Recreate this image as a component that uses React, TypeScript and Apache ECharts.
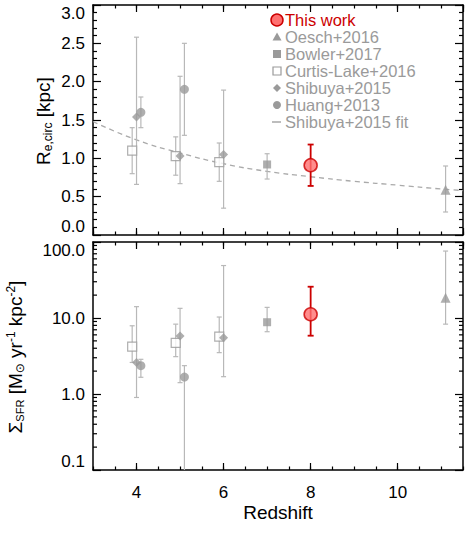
import React, { useEffect, useRef } from "react";
import * as echarts from "echarts";

// ---------- axis ranges ----------
const X_MIN = 3;
const X_MAX = 11.5;
const R_MIN = 0;
const R_MAX = 3;
const S_MIN = 0.1;
const S_MAX = 100;

// ---------- data ----------
const thisWorkZ = [8.0];
const thisWorkR = [0.91];
const thisWorkRLo = [0.64];
const thisWorkRHi = [1.18];
const thisWorkS = [11.2];
const thisWorkSLo = [5.85];
const thisWorkSHi = [25.8];

const oeschZ = [11.1];
const oeschR = [0.59];
const oeschRLo = [0.3];
const oeschRHi = [0.9];
const oeschS = [18.5];
const oeschSLo = [8.3];
const oeschSHi = [76];

const bowlerZ = [7.0];
const bowlerR = [0.92];
const bowlerRLo = [0.73];
const bowlerRHi = [1.06];
const bowlerS = [8.8];
const bowlerSLo = [6.6];
const bowlerSHi = [13.8];

const curtisZ = [3.9, 4.9, 5.9];
const curtisR = [1.1, 1.03, 0.95];
const curtisRLo = [0.8, 0.78, 0.7];
const curtisRHi = [1.4, 1.28, 1.2];
const curtisS = [4.2, 4.7, 5.7];
const curtisSLo = [2.6, 3.1, 3.5];
const curtisSHi = [7.9, 8.3, 10.3];

const shibuyaZ = [4.0, 5.0, 6.0];
const shibuyaR = [1.54, 1.03, 1.05];
const shibuyaRLo = [0.66, 0.67, 0.35];
const shibuyaRHi = [2.58, 2.07, 1.89];
const shibuyaS = [2.6, 5.8, 5.5];
const shibuyaSLo = [0.9, 1.41, 1.69];
const shibuyaSHi = [14.1, 13.4, 49];

const huangZ = [4.1, 5.1];
const huangR = [1.6, 1.9];
const huangRLo = [1.4, 1.3];
const huangRHi = [1.8, 2.5];
const huangS = [2.36, 1.67];
const huangSLo = [1.66, 0.05];
const huangSHi = [2.86, 2.36];

const fitZ = [3, 4, 5, 6, 7, 8, 9, 10, 11, 11.5];
const fitR = [1.48, 1.24, 1.07, 0.93, 0.83, 0.76, 0.7, 0.65, 0.6, 0.58];

const logMinorTicks = [
  0.2, 0.3, 0.4, 0.5, 0.6, 0.7, 0.8, 0.9,
  2, 3, 4, 5, 6, 7, 8, 9,
  20, 30, 40, 50, 60, 70, 80, 90,
];

const legendLabels = [
  "This work",
  "Oesch+2016",
  "Bowler+2017",
  "Curtis-Lake+2016",
  "Shibuya+2015",
  "Huang+2013",
  "Shibuya+2015 fit",
];

// ---------- styles ----------
const FONT = '"Liberation Sans", "DejaVu Sans", Arial, sans-serif';
const GRAY = "#9a9a9a";
const ERR_GRAY = "#b8b8b8";
const RED = "#cc0000";
const RED_FILL = "#ff7070";

const zip2 = (a: number[], b: number[]) => a.map((v, i) => [v, b[i]]);
const zip3 = (a: number[], b: number[], c: number[]) =>
  a.map((v, i) => [v, b[i], c[i]]);

function errSeries(
  z: number[],
  lo: number[],
  hi: number[],
  xi: number,
  yi: number,
  color: string,
  width: number,
  cap: number
) {
  return {
    type: "custom",
    xAxisIndex: xi,
    yAxisIndex: yi,
    clip: true,
    z: 2,
    silent: true,
    encode: { x: 0, y: [1, 2] },
    data: zip3(z, lo, hi),
    renderItem: (params: any, api: any) => {
      const x = api.value(0);
      const pLo = api.coord([x, api.value(1)]);
      const pHi = api.coord([x, api.value(2)]);
      const st = { stroke: color, lineWidth: width };
      return {
        type: "group",
        children: [
          { type: "line", shape: { x1: pLo[0], y1: pLo[1], x2: pHi[0], y2: pHi[1] }, style: st },
          { type: "line", shape: { x1: pLo[0] - cap, y1: pLo[1], x2: pLo[0] + cap, y2: pLo[1] }, style: st },
          { type: "line", shape: { x1: pHi[0] - cap, y1: pHi[1], x2: pHi[0] + cap, y2: pHi[1] }, style: st },
        ],
      };
    },
  };
}

function scatter(
  z: number[],
  v: number[],
  xi: number,
  yi: number,
  symbol: string,
  size: number,
  itemStyle: any,
  zz = 3
) {
  return {
    type: "scatter",
    xAxisIndex: xi,
    yAxisIndex: yi,
    symbol,
    symbolSize: size,
    itemStyle,
    z: zz,
    data: zip2(z, v),
  };
}

const measure = (() => {
  let ctx: CanvasRenderingContext2D | null = null;
  return (t: string, size: number) => {
    if (!ctx) ctx = document.createElement("canvas").getContext("2d");
    if (!ctx) return t.length * size * 0.55;
    ctx.font = `${size}px ${FONT}`;
    return ctx.measureText(t).width;
  };
})();

type Piece = { t: string; size: number; dy: number };

function rotatedLabel(cx: number, cy: number, pieces: Piece[]) {
  const widths = pieces.map((p) => measure(p.t, p.size));
  const total = widths.reduce((a, b) => a + b, 0);
  let x = -total / 2;
  const children = pieces.map((p, i) => {
    const el = {
      type: "text",
      x,
      y: p.dy,
      style: {
        text: p.t,
        fontSize: p.size,
        fontFamily: FONT,
        fill: "#000",
        align: "left",
        verticalAlign: "middle",
      },
    };
    x += widths[i];
    return el;
  });
  return { type: "group", x: cx, y: cy, rotation: Math.PI / 2, children };
}

function legendGraphics() {
  const cx = 277;
  const tx = 285;
  const y0 = 20;
  const dy = 17;
  const els: any[] = [];
  const rows = legendLabels.map((_, i) => y0 + i * dy);
  // markers
  els.push({ type: "circle", shape: { cx, cy: rows[0], r: 6 }, style: { fill: RED_FILL, stroke: RED, lineWidth: 1.5 } });
  els.push({
    type: "polygon",
    shape: { points: [[cx, rows[1] - 4.5], [cx + 4.5, rows[1] + 3.5], [cx - 4.5, rows[1] + 3.5]] },
    style: { fill: GRAY },
  });
  els.push({ type: "rect", shape: { x: cx - 4, y: rows[2] - 4, width: 8, height: 8 }, style: { fill: GRAY } });
  els.push({
    type: "rect",
    shape: { x: cx - 4, y: rows[3] - 4, width: 8, height: 8 },
    style: { fill: "#fff", stroke: GRAY, lineWidth: 1.2 },
  });
  els.push({
    type: "polygon",
    shape: { points: [[cx, rows[4] - 4], [cx + 4, rows[4]], [cx, rows[4] + 4], [cx - 4, rows[4]]] },
    style: { fill: GRAY },
  });
  els.push({ type: "circle", shape: { cx, cy: rows[5], r: 4 }, style: { fill: GRAY } });
  els.push({
    type: "line",
    shape: { x1: cx - 5, y1: rows[6], x2: cx + 4, y2: rows[6] },
    style: { stroke: GRAY, lineWidth: 1.3 },
  });
  legendLabels.forEach((t, i) => {
    els.push({
      type: "text",
      x: tx,
      y: rows[i],
      style: {
        text: t,
        fontSize: 16.5,
        lineHeight: 16,
        fontFamily: FONT,
        fill: i === 0 ? RED : GRAY,
        align: "left",
        verticalAlign: "middle",
      },
    });
  });
  return els;
}

export default function App() {
  const ref = useRef<HTMLDivElement>(null);

  useEffect(() => {
    if (!ref.current) return;
    const chart = echarts.init(ref.current, undefined, { renderer: "svg" });

    const axisLine = { show: true, lineStyle: { color: "#000", width: 1.5 } };
    const labelStyle = { fontSize: 17, fontFamily: FONT, color: "#000" };

    const xMain = (grid: number, pos: string, labels: boolean) => ({
      type: "value",
      gridIndex: grid,
      position: pos,
      min: X_MIN,
      max: X_MAX,
      axisLine,
      axisTick: { show: true, inside: true, length: 7, lineStyle: { color: "#000", width: 1.2 } },
      axisLabel: labels
        ? { show: true, ...labelStyle, margin: 14, showMinLabel: false, showMaxLabel: false }
        : { show: false },
      splitLine: { show: false },
    });
    const xMinor = (grid: number, pos: string) => ({
      type: "value",
      gridIndex: grid,
      position: pos,
      min: X_MIN,
      max: X_MAX,
      interval: 0.5,
      axisLine: { show: false },
      axisTick: { show: true, inside: true, length: 3.5, lineStyle: { color: "#000", width: 1.2 } },
      axisLabel: { show: false },
      splitLine: { show: false },
    });

    const yLin = (pos: string, labels: boolean) => ({
      type: "value",
      gridIndex: 0,
      position: pos,
      min: R_MIN,
      max: R_MAX,
      interval: 0.5,
      axisLine,
      axisTick: { show: true, inside: true, length: 8, lineStyle: { color: "#000", width: 1.2 } },
      minorTick: { show: true, splitNumber: 5, length: 4, lineStyle: { color: "#000", width: 1.2 } },
      axisLabel: labels
        ? {
            show: true,
            ...labelStyle,
            margin: 8,
            formatter: (v: number) => v.toFixed(1),
            verticalAlignMaxLabel: "top",
            verticalAlignMinLabel: "bottom",
          }
        : { show: false },
      splitLine: { show: false },
    });
    const yLog = (pos: string, labels: boolean) => ({
      type: "log",
      logBase: 10,
      gridIndex: 1,
      position: pos,
      min: S_MIN,
      max: S_MAX,
      axisLine,
      axisTick: { show: true, inside: true, length: 8, lineStyle: { color: "#000", width: 1.2 } },
      axisLabel: labels
        ? {
            show: true,
            ...labelStyle,
            margin: 8,
            formatter: (v: number) => v.toFixed(1),
            verticalAlignMaxLabel: "top",
            verticalAlignMinLabel: "bottom",
          }
        : { show: false },
      splitLine: { show: false },
    });

    const series: any[] = [];
    // ----- top panel (xAxis 0, yAxis 0) -----
    series.push({
      type: "line",
      xAxisIndex: 0,
      yAxisIndex: 0,
      data: zip2(fitZ, fitR),
      smooth: true,
      showSymbol: false,
      symbol: "none",
      clip: true,
      z: 1,
      lineStyle: { color: "#aaaaaa", width: 1.3, type: [5, 4] },
    });
    series.push(errSeries(curtisZ, curtisRLo, curtisRHi, 0, 0, ERR_GRAY, 1.2, 2.5));
    series.push(errSeries(shibuyaZ, shibuyaRLo, shibuyaRHi, 0, 0, ERR_GRAY, 1.2, 2.5));
    series.push(errSeries(huangZ, huangRLo, huangRHi, 0, 0, ERR_GRAY, 1.2, 2.5));
    series.push(errSeries(bowlerZ, bowlerRLo, bowlerRHi, 0, 0, ERR_GRAY, 1.2, 2.5));
    series.push(errSeries(oeschZ, oeschRLo, oeschRHi, 0, 0, ERR_GRAY, 1.2, 2.5));
    series.push(errSeries(thisWorkZ, thisWorkRLo, thisWorkRHi, 0, 0, RED, 1.8, 3));
    series.push(scatter(curtisZ, curtisR, 0, 0, "rect", 9, { color: "#fff", borderColor: GRAY, borderWidth: 1.2 }));
    series.push(scatter(shibuyaZ, shibuyaR, 0, 0, "diamond", 9, { color: GRAY }));
    series.push(scatter(huangZ, huangR, 0, 0, "circle", 9, { color: GRAY }));
    series.push(scatter(bowlerZ, bowlerR, 0, 0, "rect", 8, { color: GRAY }));
    series.push(scatter(oeschZ, oeschR, 0, 0, "triangle", 10, { color: GRAY }));
    series.push(scatter(thisWorkZ, thisWorkR, 0, 0, "circle", 13, { color: RED_FILL, borderColor: RED, borderWidth: 1.6 }, 5));

    // ----- bottom panel (xAxis 4, yAxis 2) -----
    series.push(errSeries(curtisZ, curtisSLo, curtisSHi, 4, 2, ERR_GRAY, 1.2, 2.5));
    series.push(errSeries(shibuyaZ, shibuyaSLo, shibuyaSHi, 4, 2, ERR_GRAY, 1.2, 2.5));
    series.push(errSeries(huangZ, huangSLo, huangSHi, 4, 2, ERR_GRAY, 1.2, 2.5));
    series.push(errSeries(bowlerZ, bowlerSLo, bowlerSHi, 4, 2, ERR_GRAY, 1.2, 2.5));
    series.push(errSeries(oeschZ, oeschSLo, oeschSHi, 4, 2, ERR_GRAY, 1.2, 2.5));
    series.push(errSeries(thisWorkZ, thisWorkSLo, thisWorkSHi, 4, 2, RED, 1.8, 3));
    series.push(scatter(curtisZ, curtisS, 4, 2, "rect", 9, { color: "#fff", borderColor: GRAY, borderWidth: 1.2 }));
    series.push(scatter(shibuyaZ, shibuyaS, 4, 2, "diamond", 9, { color: GRAY }));
    series.push(scatter(huangZ, huangS, 4, 2, "circle", 9, { color: GRAY }));
    series.push(scatter(bowlerZ, bowlerS, 4, 2, "rect", 8, { color: GRAY }));
    series.push(scatter(oeschZ, oeschS, 4, 2, "triangle", 10, { color: GRAY }));
    series.push(scatter(thisWorkZ, thisWorkS, 4, 2, "circle", 13, { color: RED_FILL, borderColor: RED, borderWidth: 1.6 }, 5));

    // log minor ticks (both sides)
    series.push({
      type: "custom",
      xAxisIndex: 4,
      yAxisIndex: 2,
      silent: true,
      z: 4,
      encode: { x: 0, y: 1 },
      data: logMinorTicks.map((v) => [X_MIN, v]),
      renderItem: (params: any, api: any) => {
        const v = api.value(1);
        const l = api.coord([X_MIN, v]);
        const r = api.coord([X_MAX, v]);
        const st = { stroke: "#000", lineWidth: 1.2 };
        return {
          type: "group",
          children: [
            { type: "line", shape: { x1: l[0], y1: l[1], x2: l[0] + 4, y2: l[1] }, style: st },
            { type: "line", shape: { x1: r[0] - 4, y1: r[1], x2: r[0], y2: r[1] }, style: st },
          ],
        };
      },
    });

    const graphic: any[] = [
      ...legendGraphics(),
      rotatedLabel(43, 121, [
        { t: "R", size: 19, dy: 0 },
        { t: "e,circ", size: 12, dy: 4.5 },
        { t: " [kpc]", size: 19, dy: 0 },
      ]),
      rotatedLabel(15.5, 357, [
        { t: "Σ", size: 19, dy: 0 },
        { t: "SFR", size: 11, dy: 4.5 },
        { t: " [M", size: 19, dy: 0 },
        { t: "⊙", size: 12, dy: 4.5 },
        { t: " yr", size: 19, dy: 0 },
        { t: "-1", size: 12, dy: -5 },
        { t: " kpc", size: 19, dy: 0 },
        { t: "-2", size: 12, dy: -5 },
        { t: "]", size: 19, dy: 0 },
      ]),
    ];

    chart.setOption({
      animation: false,
      backgroundColor: "#fff",
      textStyle: { fontFamily: FONT },
      grid: [
        { left: 93, top: 5, width: 370, height: 230 },
        { left: 93, top: 242, width: 370, height: 228 },
      ],
      xAxis: [
        xMain(0, "bottom", false),
        xMinor(0, "bottom"),
        xMain(0, "top", false),
        xMinor(0, "top"),
        {
          ...xMain(1, "bottom", true),
          name: "Redshift",
          nameLocation: "middle",
          nameGap: 33,
          nameTextStyle: { fontSize: 19, fontFamily: FONT, color: "#000" },
        },
        xMinor(1, "bottom"),
        xMain(1, "top", false),
        xMinor(1, "top"),
      ],
      yAxis: [yLin("left", true), yLin("right", false), yLog("left", true), yLog("right", false)],
      series,
      graphic,
    });

    return () => chart.dispose();
  }, []);

  return (
    <div
      ref={ref}
      style={{ position: "absolute", left: 0, top: 0, width: 469, height: 536, background: "#fff" }}
    />
  );
}
